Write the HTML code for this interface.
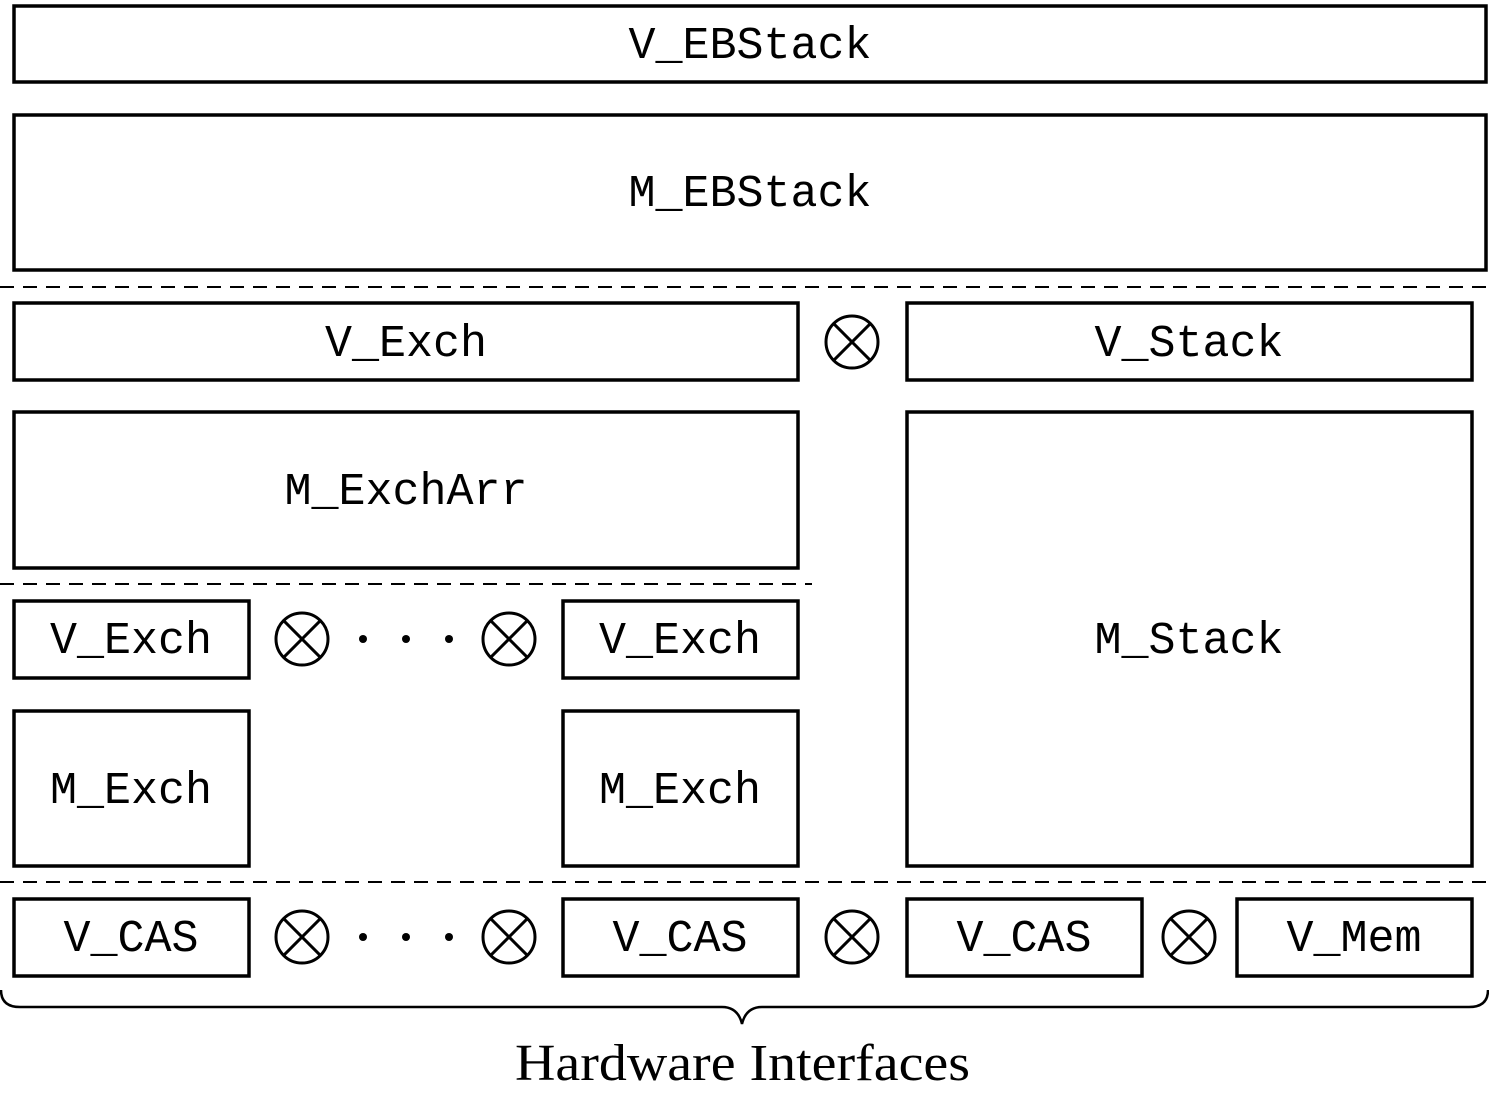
<!DOCTYPE html>
<html><head><style>body{margin:0;background:#fff}svg{display:block}</style></head>
<body>
<svg width="1489" height="1097" viewBox="0 0 1489 1097" xmlns="http://www.w3.org/2000/svg">
<defs>
<g id="ot"><circle cx="0" cy="0" r="26" fill="none" stroke="#000" stroke-width="3"/><line x1="-18.4" y1="-18.4" x2="18.4" y2="18.4" stroke="#000" stroke-width="3"/><line x1="-18.4" y1="18.4" x2="18.4" y2="-18.4" stroke="#000" stroke-width="3"/></g>
</defs>
<g fill="none" stroke="#000" stroke-width="3.5">
<rect x="14" y="6" width="1472" height="76"/>
<rect x="14" y="115" width="1472" height="155"/>
<rect x="14" y="303" width="784" height="77"/>
<rect x="907" y="303" width="565" height="77"/>
<rect x="14" y="412" width="784" height="156"/>
<rect x="14" y="601" width="235" height="77"/>
<rect x="563" y="601" width="235" height="77"/>
<rect x="14" y="711" width="235" height="155"/>
<rect x="563" y="711" width="235" height="155"/>
<rect x="907" y="412" width="565" height="454"/>
<rect x="14" y="899" width="235" height="77"/>
<rect x="563" y="899" width="235" height="77"/>
<rect x="907" y="899" width="235" height="77"/>
<rect x="1237" y="899" width="235" height="77"/>
</g>
<g stroke="#000" stroke-width="2" stroke-dasharray="14,9">
<line x1="0" y1="287" x2="1489" y2="287"/>
<line x1="0" y1="584" x2="812" y2="584"/>
<line x1="0" y1="882" x2="1489" y2="882"/>
</g>
<use href="#ot" x="852" y="342"/>
<use href="#ot" x="302" y="639"/>
<use href="#ot" x="509" y="639"/>
<use href="#ot" x="302" y="937"/>
<use href="#ot" x="509" y="937"/>
<use href="#ot" x="852" y="937"/>
<use href="#ot" x="1189" y="937"/>
<g fill="#000">
<circle cx="363" cy="639" r="4"/><circle cx="406" cy="639" r="4"/><circle cx="449" cy="639" r="4"/>
<circle cx="363" cy="937" r="4"/><circle cx="406" cy="937" r="4"/><circle cx="449" cy="937" r="4"/>
</g>
<path d="M1 990 Q1 1007 20 1007 L722 1007 Q738 1007 742 1024 Q746 1007 762 1007 L1469 1007 Q1488 1007 1488 990" fill="none" stroke="#000" stroke-width="2.5"/>
<g font-family="'Liberation Mono', monospace" font-size="45" text-anchor="middle" fill="#000">
<text x="750" y="58">V_EBStack</text>
<text x="750" y="206">M_EBStack</text>
<text x="406" y="356">V_Exch</text>
<text x="1189" y="356">V_Stack</text>
<text x="406" y="504">M_ExchArr</text>
<text x="131" y="653">V_Exch</text>
<text x="680" y="653">V_Exch</text>
<text x="131" y="803">M_Exch</text>
<text x="680" y="803">M_Exch</text>
<text x="1189" y="653">M_Stack</text>
<text x="131" y="951">V_CAS</text>
<text x="680" y="951">V_CAS</text>
<text x="1024" y="951">V_CAS</text>
<text x="1354" y="951">V_Mem</text>
</g>
<text x="515" y="1080" font-family="'Liberation Serif', serif" font-size="52" textLength="455" lengthAdjust="spacingAndGlyphs" fill="#000">Hardware Interfaces</text>
</svg>
</body></html>
